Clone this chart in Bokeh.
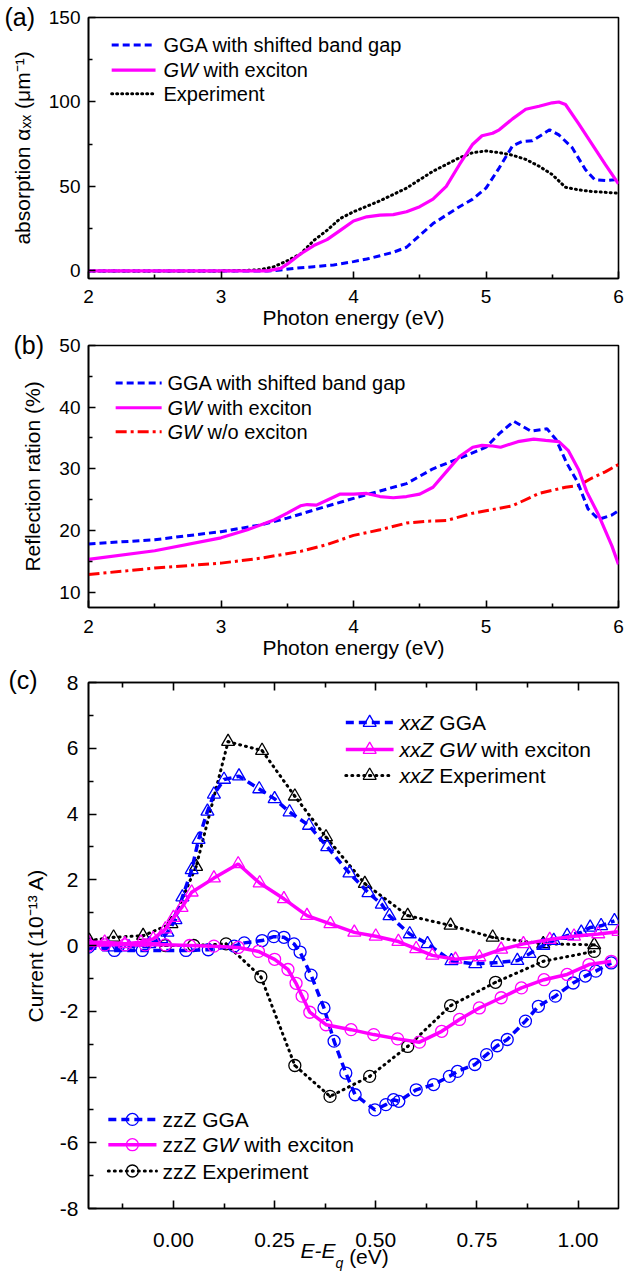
from bokeh.plotting import figure
from bokeh.layouts import column
from bokeh.models import (Range1d, FixedTicker, Label, LinearAxis, Title,
                          NumeralTickFormatter, CustomJSTickFormatter, ColumnDataSource)
from bokeh.embed import file_html
from bokeh.resources import INLINE

FONT = "Liberation Sans"
BLUE = "#0000FF"
MAG = "#FF00FF"
RED = "#FF0000"
BLACK = "#000000"

# ---------------- panel (a): absorption ----------------
a_gga_x = [2.0, 3.0, 3.35, 3.45, 3.55, 3.7, 3.85, 4.0, 4.1, 4.2, 4.3, 4.4, 4.5, 4.6, 4.7,
           4.8, 4.9, 5.0, 5.1, 5.2, 5.27, 5.35, 5.42, 5.48, 5.55, 5.65, 5.75, 5.82, 5.9, 5.97, 6.0]
a_gga_y = [0, 0, 0, 0.5, 1.5, 2.5, 3.5, 5.5, 7, 9, 11, 14, 21, 28, 33,
           38, 42.5, 49, 61, 74, 76.5, 77, 80.5, 83.5, 80.5, 73, 60, 54, 53.5, 54, 55]
a_gw_x = [2.0, 3.0, 3.35, 3.45, 3.5, 3.6, 3.7, 3.8, 3.9, 4.0, 4.1, 4.2, 4.3, 4.4, 4.5, 4.6,
          4.7, 4.8, 4.9, 4.97, 5.05, 5.1, 5.2, 5.3, 5.4, 5.5, 5.55, 5.6, 5.7, 5.8, 5.9, 6.0]
a_gw_y = [0, 0, 0, 1.5, 4, 10, 15, 18.5, 24, 29.5, 32, 33, 33.3, 35, 38, 42.5,
          50, 63, 75, 80, 81.5, 83.5, 90, 95.7, 97.5, 99.5, 100, 98.5, 87, 75, 63, 51.5]
a_exp_x = [2.0, 3.0, 3.2, 3.3, 3.4, 3.5, 3.6, 3.7, 3.8, 3.9, 4.0, 4.2, 4.4, 4.6, 4.8, 4.9,
           5.0, 5.1, 5.2, 5.3, 5.4, 5.5, 5.6, 5.7, 5.8, 6.0]
a_exp_y = [0, 0, 0.3, 0.8, 2.5, 6, 10, 18, 24, 31, 35, 41.5, 49, 59, 67, 70,
           71, 70, 68.5, 66, 62, 57, 49.5, 48, 47, 46]

# ---------------- panel (b): reflection ----------------
b_gga_x = [2.0, 2.5, 3.0, 3.3, 3.5, 3.7, 4.0, 4.2, 4.4, 4.6, 4.8, 5.0, 5.1, 5.21, 5.34,
           5.46, 5.53, 5.61, 5.69, 5.77, 5.85, 5.95, 6.0]
b_gga_y = [17.8, 18.5, 19.8, 20.9, 22.0, 23.3, 25.2, 26.4, 27.6, 30.0, 31.7, 33.5, 35.7, 37.7, 36.1,
           36.5, 34.7, 30.9, 27.9, 23.5, 21.8, 22.5, 23.2]
b_gw_x = [2.0, 2.5, 3.0, 3.2, 3.4, 3.5, 3.6, 3.65, 3.72, 3.8, 3.9, 4.0, 4.1, 4.2, 4.3, 4.4, 4.5,
          4.6, 4.7, 4.8, 4.9, 4.97, 5.05, 5.11, 5.24, 5.36, 5.45, 5.55, 5.62, 5.7, 5.76, 5.85,
          5.95, 6.0]
b_gw_y = [15.3, 16.7, 18.8, 20.1, 21.7, 22.8, 24.0, 24.2, 24.1, 24.9, 25.9, 25.9, 26.0, 25.5, 25.3,
          25.5, 25.9, 27.0, 29.5, 32.0, 33.5, 33.8, 33.7, 33.5, 34.4, 34.8, 34.6, 34.4, 33.0, 29.8,
          26.3, 22.5, 17.5, 14.5]
b_wo_x = [2.0, 2.5, 3.0, 3.3, 3.6, 3.8, 4.0, 4.2, 4.4, 4.55, 4.7, 4.9, 5.0, 5.2, 5.4, 5.6, 5.7,
          5.8, 5.9, 6.0]
b_wo_y = [12.85, 13.9, 14.7, 15.5, 16.6, 17.7, 19.2, 20.1, 21.2, 21.5, 21.6, 22.8, 23.2, 24.0,
          26.0, 27.0, 27.3, 28.5, 29.5, 30.7]

# ---------------- panel (c): photocurrent ----------------
c_xx_gga_x = [-0.21, -0.16, -0.11, -0.06, -0.03, -0.015, 0.005, 0.022, 0.045, 0.062, 0.084,
              0.1, 0.125, 0.162, 0.212, 0.25, 0.287, 0.335, 0.38, 0.435, 0.482, 0.515, 0.534,
              0.584, 0.628, 0.687, 0.746, 0.80, 0.85, 0.88, 0.914, 0.94, 0.973, 1.008, 1.03,
              1.057, 1.09]
c_xx_gga_y = [0.0, -0.05, -0.05, 0.05, 0.2, 0.4, 0.78, 1.47, 2.3, 3.22, 4.08,
              4.6, 5.05, 5.15, 4.76, 4.46, 4.06, 3.65, 3.0, 2.2, 1.6, 1.25, 0.9,
              0.35, 0.05, -0.47, -0.56, -0.52, -0.46, -0.25, 0.0, 0.15, 0.3, 0.4, 0.55,
              0.6, 0.75]
c_xx_gw_x = [-0.21, -0.17, -0.12, -0.08, -0.05, -0.02, 0.0, 0.02, 0.045, 0.1, 0.16, 0.213,
             0.273, 0.33, 0.388, 0.447, 0.50, 0.556, 0.60, 0.64, 0.697, 0.756, 0.81, 0.865,
             0.93, 0.99, 1.05, 1.1]
c_xx_gw_y = [0.1, 0.1, 0.05, 0.1, 0.2, 0.5, 0.85, 1.15, 1.62, 2.05, 2.48, 1.9,
             1.42, 0.91, 0.66, 0.4, 0.28, 0.12, -0.1, -0.3, -0.42, -0.35, -0.12, 0.05,
             0.18, 0.28, 0.35, 0.42]
c_xx_exp_x = [-0.208, -0.148, -0.075, -0.005, 0.056, 0.135, 0.219, 0.30, 0.377, 0.473,
              0.579, 0.685, 0.789, 0.914, 1.04]
c_xx_exp_y = [0.15, 0.25, 0.3, 0.66, 2.40, 6.2, 5.93, 4.54, 3.30, 1.88,
              0.91, 0.61, 0.25, 0.05, 0.02]
c_zz_gga_x = [-0.21, -0.146, -0.077, 0.031, 0.086, 0.15, 0.175, 0.219, 0.248, 0.273, 0.298,
              0.313, 0.34, 0.372, 0.397, 0.426, 0.449, 0.498, 0.525, 0.544, 0.557, 0.60,
              0.643, 0.682, 0.702, 0.745, 0.774, 0.80, 0.825, 0.87, 0.902, 0.944, 0.988,
              1.018, 1.044, 1.082]
c_zz_gga_y = [-0.05, -0.15, -0.15, -0.15, -0.13, -0.02, 0.08, 0.15, 0.27, 0.25, 0.05,
              -0.2, -0.9, -1.9, -2.91, -3.88, -4.54, -5.0, -4.84, -4.69, -4.74, -4.39,
              -4.23, -3.98, -3.83, -3.62, -3.32, -3.05, -2.86, -2.30, -1.85, -1.54, -1.14,
              -0.93, -0.78, -0.53]
c_zz_gw_x = [-0.21, -0.17, -0.12, -0.07, -0.02, 0.04, 0.10, 0.16, 0.21, 0.25, 0.283, 0.303,
             0.318, 0.337, 0.377, 0.439, 0.495, 0.554, 0.608, 0.663, 0.707, 0.756, 0.81,
             0.86, 0.916, 0.973, 1.027, 1.082]
c_zz_gw_y = [0.0, 0.02, 0.02, 0.02, 0.02, 0.0, -0.02, -0.06, -0.18, -0.42, -0.73, -1.15,
             -1.54, -2.03, -2.41, -2.56, -2.71, -2.84, -2.94, -2.61, -2.25, -1.9, -1.59,
             -1.29, -1.04, -0.88, -0.58, -0.48]
c_zz_exp_x = [-0.21, -0.02, 0.05, 0.13, 0.216, 0.30, 0.387, 0.485, 0.579, 0.685, 0.796,
              0.914, 1.04]
c_zz_exp_y = [0.05, 0.0, 0.0, 0.05, -0.95, -3.65, -4.59, -3.98, -3.07, -1.83, -1.12,
              -0.48, -0.18]

# tick definitions
e_ticks = [2, 3, 4, 5, 6]
e_minor = [2.5, 3.5, 4.5, 5.5]
a_ticks = [0, 50, 100, 150]
a_minor = [25, 75, 125]
b_ticks = [10, 20, 30, 40, 50]
b_minor = [15, 25, 35, 45]
c_xticks = [0.0, 0.25, 0.5, 0.75, 1.0]
c_xminor = [-0.125, 0.125, 0.375, 0.625, 0.875]
c_yticks = [-8, -6, -4, -2, 0, 2, 4, 6, 8]
c_yminor = [-7, -5, -3, -1, 1, 3, 5, 7]

# Arial / Liberation Sans advance widths (em)
W = {"G": 0.778, "W": 0.944, "x": 0.5, "z": 0.5, "Z": 0.611, " ": 0.278, "E": 0.667,
     "-": 0.333, "q": 0.556}


def tw(s, size):
    return sum(W[c] for c in s) * size


def make_fig(frame_h, top, bottom, xr, yr, border_fill="white"):
    p = figure(frame_width=530, frame_height=frame_h, min_border_left=88,
               min_border_right=6, min_border_top=top, min_border_bottom=bottom,
               x_range=xr, y_range=yr, output_backend="svg", toolbar_location=None)
    p.xgrid.visible = False
    p.ygrid.visible = False
    p.outline_line_color = BLACK
    p.outline_line_width = 1.6
    p.outline_line_alpha = 1.0
    p.background_fill_color = "white"
    p.border_fill_color = border_fill
    return p


def style_axis(ax, tick_size, label_size=21, tin=7, mtin=4):
    ax.axis_line_width = 1.6
    ax.major_tick_in = tin
    ax.major_tick_out = 0
    ax.minor_tick_in = mtin
    ax.minor_tick_out = 0
    ax.major_tick_line_width = 1.6
    ax.minor_tick_line_width = 1.6
    ax.major_label_text_font = FONT
    ax.major_label_text_font_size = f"{tick_size}px"
    ax.major_label_text_color = BLACK
    ax.axis_label_text_font = FONT
    ax.axis_label_text_font_size = f"{label_size}px"
    ax.axis_label_text_font_style = "normal"
    ax.axis_label_text_color = BLACK


def legend_row(p, x0, x1, xt, y, line_kw, parts, size, marker_kw=None):
    src = ColumnDataSource(dict(x=[x0, x1], y=[y, y]))
    p.line("x", "y", source=src, **line_kw)
    if marker_kw is not None:
        msrc = ColumnDataSource(dict(x=[(x0 + x1) / 2], y=[y]))
        p.scatter("x", "y", source=msrc, **marker_kw)
    off = 0.0
    for text, italic, adv in parts:
        p.add_layout(Label(x=xt, y=y, x_offset=off, text=text, text_font=FONT,
                           text_font_size=f"{size}px",
                           text_font_style="italic" if italic else "normal",
                           text_baseline="middle", text_align="left", text_color=BLACK))
        off += adv


def letter_title(p, text, offset, standoff, size=25):
    p.title.text = text
    p.title.text_font = FONT
    p.title.text_font_size = f"{size}px"
    p.title.text_font_style = "normal"
    p.title.text_color = BLACK
    p.title.align = "left"
    p.title.vertical_align = "top"
    p.title.offset = offset
    p.title.standoff = standoff


def below_piece(p, text, style, size, offset, standoff):
    t = Title(text=text, text_font=FONT, text_font_size=f"{size}px", text_font_style=style,
              text_color=BLACK, align="left", vertical_align="top", offset=offset,
              standoff=standoff)
    p.add_layout(t, "below")


GGA_AB = dict(line_color=BLUE, line_width=3, line_dash="7 4")
GW_AB = dict(line_color=MAG, line_width=3.2)
EXP_AB = dict(line_color=BLACK, line_width=3, line_dash="1 4", line_cap="round")
WO_B = dict(line_color=RED, line_width=3, line_dash="11 4 3 4")

# ---------------- figure (a) ----------------
pa = make_fig(261, 17, 56, Range1d(2, 6), Range1d(-4.5, 150))
pa.line(a_gga_x, a_gga_y, **GGA_AB)
pa.line(a_exp_x, a_exp_y, **EXP_AB)
pa.line(a_gw_x, a_gw_y, **GW_AB)
pa.xaxis.ticker = FixedTicker(ticks=e_ticks, minor_ticks=e_minor)
pa.yaxis.ticker = FixedTicker(ticks=a_ticks, minor_ticks=a_minor)
pa.xaxis.axis_label = "Photon energy (eV)"
pa.yaxis.axis_label = "absorption \u03b1\u2093\u2093 (\u03bcm\u207b\u00b9)"
for ax in pa.axis:
    style_axis(ax, 19)
pa.xaxis.major_label_standoff = 11
pa.xaxis.axis_label_standoff = 0
pa.yaxis.major_label_standoff = 8
pa.yaxis.axis_label_standoff = 12
legend_row(pa, 2.175, 2.506, 2.566, 133.7, GGA_AB, [("GGA with shifted band gap", False, 0)], 20)
legend_row(pa, 2.175, 2.506, 2.566, 118.9, GW_AB,
           [("GW", True, tw("GW ", 20)), ("with exciton", False, 0)], 20)
legend_row(pa, 2.175, 2.506, 2.566, 104.9, EXP_AB, [("Experiment", False, 0)], 20)
letter_title(pa, "(a)", -84, -30)

# ---------------- figure (b) ----------------
# transparent border + small negative top margin: the panel letter may overlap (a)'s margin
pb = make_fig(262, 19, 57, Range1d(2, 6), Range1d(7.5, 50), border_fill=None)
pb.margin = (-8, 0, 0, 0)
pb.line(b_wo_x, b_wo_y, **WO_B)
pb.line(b_gga_x, b_gga_y, **GGA_AB)
pb.line(b_gw_x, b_gw_y, **GW_AB)
pb.xaxis.ticker = FixedTicker(ticks=e_ticks, minor_ticks=e_minor)
pb.yaxis.ticker = FixedTicker(ticks=b_ticks, minor_ticks=b_minor)
pb.xaxis.axis_label = "Photon energy (eV)"
pb.yaxis.axis_label = "Reflection ration (%)"
for ax in pb.axis:
    style_axis(ax, 19)
pb.xaxis.major_label_standoff = 12
pb.xaxis.axis_label_standoff = 0
pb.yaxis.major_label_standoff = 8
pb.yaxis.axis_label_standoff = 12
legend_row(pb, 2.205, 2.552, 2.596, 43.9, GGA_AB, [("GGA with shifted band gap", False, 0)], 20)
legend_row(pb, 2.205, 2.552, 2.596, 39.9, GW_AB,
           [("GW", True, tw("GW ", 20)), ("with exciton", False, 0)], 20)
legend_row(pb, 2.205, 2.552, 2.596, 36.0, WO_B,
           [("GW", True, tw("GW ", 20)), ("w/o exciton", False, 0)], 20)
letter_title(pb, "(b)", -75, -30)

# ---------------- figure (c) ----------------
pc = make_fig(526, 18, 64, Range1d(-0.21, 1.1), Range1d(-8, 8))
GGA_C = dict(line_color=BLUE, line_width=3.5, line_dash="8 5")
GW_C = dict(line_color=MAG, line_width=3.5)
EXP_C = dict(line_color=BLACK, line_width=3, line_dash="1 5", line_cap="round")
TRI_B = dict(marker="triangle", size=13, line_color=BLUE, fill_color=None, line_width=1.3)
TRI_M = dict(marker="triangle", size=13, line_color=MAG, fill_color=None, line_width=1.3)
TRI_K = dict(marker="triangle_dot", size=13, line_color=BLACK, fill_color=None, line_width=1.3)
CIR_B = dict(marker="circle", size=12, line_color=BLUE, fill_color=None, line_width=1.3)
CIR_M = dict(marker="circle", size=12, line_color=MAG, fill_color=None, line_width=1.3)
CIR_K = dict(marker="circle_dot", size=12, line_color=BLACK, fill_color=None, line_width=1.3)

pc.line(c_zz_exp_x, c_zz_exp_y, **EXP_C)
pc.scatter(c_zz_exp_x, c_zz_exp_y, **CIR_K)
pc.line(c_xx_exp_x, c_xx_exp_y, **EXP_C)
pc.scatter(c_xx_exp_x, c_xx_exp_y, **TRI_K)
pc.line(c_zz_gga_x, c_zz_gga_y, **GGA_C)
pc.scatter(c_zz_gga_x, c_zz_gga_y, **CIR_B)
pc.line(c_xx_gga_x, c_xx_gga_y, **GGA_C)
pc.scatter(c_xx_gga_x, c_xx_gga_y, **TRI_B)
pc.line(c_zz_gw_x, c_zz_gw_y, **GW_C)
pc.scatter(c_zz_gw_x, c_zz_gw_y, **CIR_M)
pc.line(c_xx_gw_x, c_xx_gw_y, **GW_C)
pc.scatter(c_xx_gw_x, c_xx_gw_y, **TRI_M)

pc.xaxis.ticker = FixedTicker(ticks=c_xticks, minor_ticks=c_xminor)
pc.xaxis.formatter = NumeralTickFormatter(format="0.00")
pc.yaxis.ticker = FixedTicker(ticks=c_yticks, minor_ticks=c_yminor)
pc.yaxis.formatter = NumeralTickFormatter(format="0")
pc.yaxis.axis_label = "Current (10\u207b\u00b9\u00b3 A)"
for ax in pc.axis:
    style_axis(ax, 21, tin=8, mtin=5)
pc.xaxis.major_label_standoff = 24
pc.yaxis.major_label_standoff = 10
pc.yaxis.axis_label_standoff = 10

top = LinearAxis(ticker=FixedTicker(ticks=c_xticks, minor_ticks=c_xminor),
                 formatter=CustomJSTickFormatter(code="return ''"))
style_axis(top, 21, tin=8, mtin=5)
top.major_label_standoff = 0
pc.add_layout(top, "above")
letter_title(pc, "(c)", -80, -34)

# x-axis title E-Eq (eV), built from pieces below the axis
ex = 212
below_piece(pc, "E-E", "italic", 21, ex, -22)
below_piece(pc, "(eV)", "normal", 21, ex + tw("E-E", 21) + tw("q", 14) + tw(" ", 21), -15.5)
below_piece(pc, "q", "italic", 14, ex + tw("E-E", 21), -15)

S = 21
legend_row(pc, 0.426, 0.544, 0.559, 6.78, GGA_C,
           [("xxZ", True, tw("xxZ ", S)), ("GGA", False, 0)], S, TRI_B)
legend_row(pc, 0.426, 0.544, 0.559, 5.96, GW_C,
           [("xxZ GW", True, tw("xxZ GW ", S)), ("with exciton", False, 0)], S, TRI_M)
legend_row(pc, 0.426, 0.544, 0.559, 5.17, EXP_C,
           [("xxZ", True, tw("xxZ ", S)), ("Experiment", False, 0)], S, TRI_K)
legend_row(pc, -0.161, -0.042, -0.027, -5.29, GGA_C, [("zzZ GGA", False, 0)], S, CIR_B)
legend_row(pc, -0.161, -0.042, -0.027, -6.06, GW_C,
           [("zzZ", False, tw("zzZ ", S)), ("GW", True, tw("GW ", S)),
            ("with exciton", False, 0)], S, CIR_M)
legend_row(pc, -0.161, -0.042, -0.027, -6.86, EXP_C, [("zzZ Experiment", False, 0)], S, CIR_K)

layout = column(pa, pb, pc)
open("out.html", "w").write(file_html(layout, INLINE))
